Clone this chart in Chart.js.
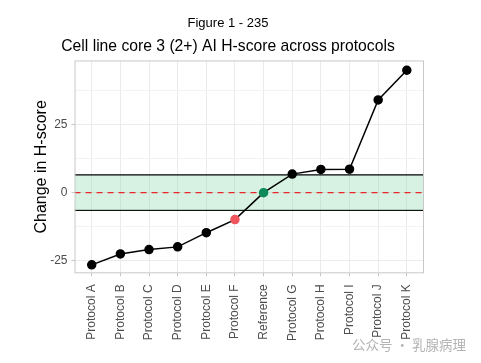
<!DOCTYPE html>
<html>
<head>
<meta charset="utf-8">
<script src="https://cdn.jsdelivr.net/npm/chart.js@4/dist/chart.umd.min.js"></script>
<style>
html,body{margin:0;padding:0;background:#fff;}
#wrap{position:relative;width:481px;height:363px;}
#wm{position:absolute;left:352px;top:334px;font-family:"Noto Sans CJK SC","Liberation Sans",sans-serif;font-size:13.5px;color:#b4b4b4;white-space:nowrap;}
</style>
</head>
<body>
<div id="wrap"><canvas id="c" width="481" height="363"></canvas><div id="wm">公众号 · 乳腺病理</div></div>
<script>
const categories = ["Protocol A","Protocol B","Protocol C","Protocol D","Protocol E","Protocol F","Reference","Protocol G","Protocol H","Protocol I","Protocol J","Protocol K"];
const values = [-26.5, -22.5, -20.9, -19.9, -14.7, -9.9, 0, 6.8, 8.5, 8.6, 34.0, 44.9];
const pointColors = ["#000000","#000000","#000000","#000000","#000000","#F0545C","#0E8A58","#000000","#000000","#000000","#000000","#000000"];
const bandLow = -6.5;
const bandHigh = 6.5;
const refLine = 0;
const yTicksLabelled = [-25, 0, 25];
const yGridValues = [-25, -12.5, 0, 12.5, 25, 37.5];

const xMin = -0.6, xMax = categories.length - 1 + 0.6;
const lineData = values.map((v, i) => ({x: i, y: v}));
const span = (y) => [{x: xMin, y: y}, {x: xMax, y: y}];

const panelBorder = {
  id: 'panelBorder',
  afterDraw(chart) {
    const a = chart.chartArea, ctx = chart.ctx;
    ctx.save();
    ctx.strokeStyle = '#c8c8c8';
    ctx.lineWidth = 1;
    ctx.strokeRect(a.left + 0.5, a.top + 0.5, a.right - a.left - 1, a.bottom - a.top - 1);
    ctx.restore();
  }
};

new Chart(document.getElementById('c'), {
  type: 'line',
  data: {
    datasets: [
      {data: span(bandLow), borderColor: '#000', borderWidth: 1.2, pointRadius: 0, fill: false, order: 5},
      {data: span(bandHigh), borderColor: '#000', borderWidth: 1.2, pointRadius: 0, fill: '-1', backgroundColor: 'rgba(150,220,180,0.38)', order: 4},
      {data: span(refLine), borderColor: '#e8262a', borderWidth: 1.4, borderDash: [6, 5], pointRadius: 0, fill: false, order: 3},
      {data: lineData, borderColor: '#000', borderWidth: 1.5, pointBackgroundColor: pointColors, pointBorderColor: pointColors, pointRadius: 4, fill: false, tension: 0, order: 1}
    ]
  },
  options: {
    responsive: false,
    animation: false,
    events: [],
    layout: {padding: {left: 32, right: 57, top: 0, bottom: 14}},
    plugins: {
      legend: {display: false},
      tooltip: {enabled: false},
      title: {display: true, text: 'Figure 1 - 235', color: '#000', font: {family: 'Liberation Sans', size: 13, weight: 'normal'}, padding: {top: 16, bottom: 4}},
      subtitle: {display: true, text: 'Cell line core 3 (2+) AI H-score across protocols', color: '#000', font: {family: 'Liberation Sans', size: 15.7, weight: 'normal'}, padding: {top: 2, bottom: 4}}
    },
    scales: {
      x: {
        type: 'linear', min: xMin, max: xMax,
        afterBuildTicks: (s) => { s.ticks = categories.map((c, i) => ({value: i})); },
        ticks: {autoSkip: false, maxRotation: 90, minRotation: 90, color: '#4d4d4d', padding: 8,
          font: {family: 'Liberation Sans', size: 12},
          callback: (v) => categories[v] ?? ''},
        grid: {color: '#ebebeb', lineWidth: 1, drawTicks: true, tickLength: 3, tickColor: '#c8c8c8'},
        border: {display: false}
      },
      y: {
        min: -29.6, max: 48.5,
        afterBuildTicks: (s) => { s.ticks = yGridValues.map(v => ({value: v})); },
        ticks: {color: '#4d4d4d', padding: 4, font: {family: 'Liberation Sans', size: 12},
          callback: (v) => yTicksLabelled.includes(v) ? String(v) : ''},
        grid: {color: (ctx) => (ctx.tick && yTicksLabelled.includes(ctx.tick.value)) ? '#ebebeb' : '#f3f3f3', lineWidth: 1, drawTicks: true, tickLength: 3, tickColor: (ctx) => (ctx.tick && yTicksLabelled.includes(ctx.tick.value)) ? '#c8c8c8' : 'rgba(0,0,0,0)'},
        border: {display: false},
        title: {display: true, text: 'Change in H-score', color: '#000', font: {family: 'Liberation Sans', size: 16}, padding: {top: 0, bottom: -5}}
      }
    }
  },
  plugins: [panelBorder]
});
</script>
</body>
</html>
